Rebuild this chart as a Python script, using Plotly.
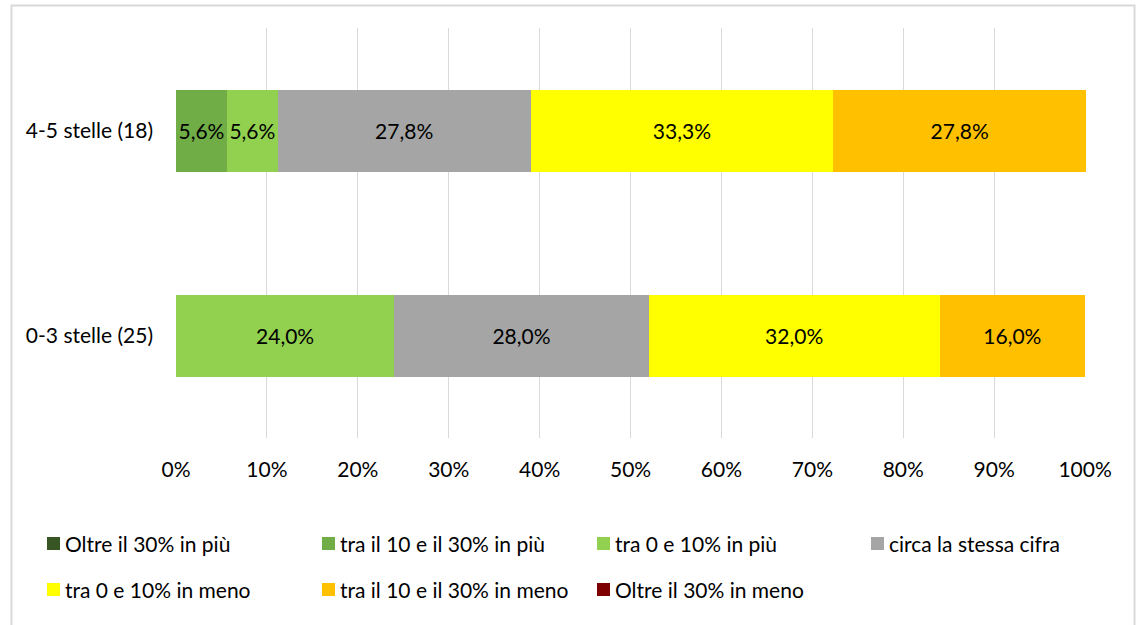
import plotly.graph_objects as go

# Hotel categories (bottom to top on the chart)
categories = ["0-3 stelle (25)", "4-5 stelle (18)"]

# Answer classes, in stacking order
series_names = [
    "Oltre il 30% in più",
    "tra il 10 e il 30% in più",
    "tra 0 e 10% in più",
    "circa la stessa cifra",
    "tra 0 e 10% in meno",
    "tra il 10 e il 30% in meno",
    "Oltre il 30% in meno",
]

# Percentages per class: [0-3 stelle, 4-5 stelle]
oltre_30_piu = [0.0, 0.0]
tra_10_30_piu = [0.0, 5.6]
tra_0_10_piu = [24.0, 5.6]
stessa_cifra = [28.0, 27.8]
tra_0_10_meno = [32.0, 33.3]
tra_10_30_meno = [16.0, 27.8]
oltre_30_meno = [0.0, 0.0]

series_values = [
    oltre_30_piu, tra_10_30_piu, tra_0_10_piu, stessa_cifra,
    tra_0_10_meno, tra_10_30_meno, oltre_30_meno,
]

colors = ["#375623", "#70AD47", "#92D050", "#A5A5A5", "#FFFF00", "#FFC000", "#7F0000"]

x_ticks = [0, 10, 20, 30, 40, 50, 60, 70, 80, 90, 100]
x_tick_labels = [f"{t}%" for t in x_ticks]

FONT = "Lato"
FS = 21
W, H = 1140, 625
L, R, T, B = 176, 54, 28, 187
plot_w = W - L - R
plot_h = H - T - B


def px_to_paper_x(px):
    return (px - L) / plot_w


def px_to_paper_y(py):
    return (H - B - py) / plot_h


def fmt(v):
    return "" if v == 0 else f"{v:.1f}".replace(".", ",") + "%"


fig = go.Figure()
for name, vals, col in zip(series_names, series_values, colors):
    fig.add_trace(go.Bar(
        y=categories,
        x=vals,
        name=name,
        orientation="h",
        marker=dict(color=col, line=dict(width=0)),
        text=[fmt(v) for v in vals],
        textposition="inside",
        insidetextanchor="middle",
        textangle=0,
        textfont=dict(family=FONT, size=FS, color="#000000"),
        constraintext="none",
        cliponaxis=False,
        showlegend=False,
        hoverinfo="skip",
    ))

shapes = [
    # outer chart frame
    dict(type="rect", xref="paper", yref="paper",
         x0=px_to_paper_x(11.5), x1=px_to_paper_x(1134.5),
         y0=px_to_paper_y(5.5), y1=px_to_paper_y(640),
         line=dict(color="#D9D9D9", width=2), fillcolor="rgba(0,0,0,0)", layer="below"),
]
annotations = []

# legend: 4 columns x 2 rows
col_x = [47, 322, 597, 871]
row_y = [543.5, 589.5]
sq = 13
for i, (name, col) in enumerate(zip(series_names, colors)):
    r, c = divmod(i, 4)
    x0 = col_x[c]
    yc = row_y[r]
    shapes.append(dict(
        type="rect", xref="paper", yref="paper",
        x0=px_to_paper_x(x0), x1=px_to_paper_x(x0 + sq),
        y0=px_to_paper_y(yc + sq / 2), y1=px_to_paper_y(yc - sq / 2),
        fillcolor=col, line=dict(width=0),
    ))
    annotations.append(dict(
        xref="paper", yref="paper",
        x=px_to_paper_x(x0 + sq + 3), y=px_to_paper_y(yc),
        text=name, showarrow=False, xanchor="left", yanchor="middle",
        font=dict(family=FONT, size=FS, color="#000000"),
    ))

fig.update_layout(
    barmode="stack",
    bargap=0.6,
    width=W, height=H,
    margin=dict(l=L, r=R, t=T, b=B, pad=0),
    paper_bgcolor="white",
    plot_bgcolor="white",
    shapes=shapes,
    annotations=annotations,
    font=dict(family=FONT, size=FS, color="#000000"),
    xaxis=dict(
        range=[0, 100.1],
        tickvals=x_ticks,
        ticktext=x_tick_labels,
        showgrid=True,
        gridcolor="#D9D9D9",
        gridwidth=1,
        zeroline=False,
        showline=False,
        ticks="",
        ticklabelstandoff=17,
        tickfont=dict(family=FONT, size=FS, color="#000000"),
        fixedrange=True,
    ),
    yaxis=dict(
        categoryorder="array",
        categoryarray=categories,
        showgrid=False,
        zeroline=False,
        showline=False,
        ticks="",
        ticklabelstandoff=22,
        tickfont=dict(family=FONT, size=FS, color="#000000"),
        fixedrange=True,
    ),
)

fig.write_html("out.html", config={"displayModeBar": False})
